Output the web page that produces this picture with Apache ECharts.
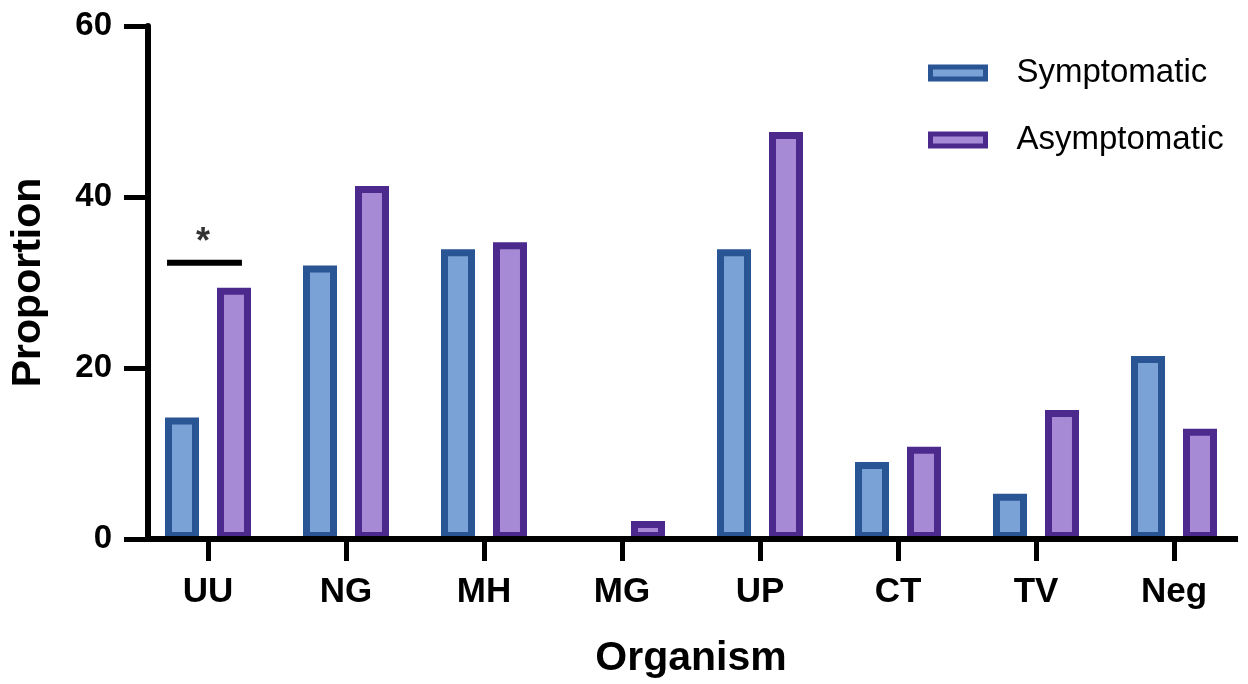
<!DOCTYPE html>
<html>
<head>
<meta charset="utf-8">
<script src="https://cdn.jsdelivr.net/npm/echarts@6/dist/echarts.min.js"></script>
<style>
html,body{margin:0;padding:0;background:#fff;}
#chart{width:1248px;height:684px;}
</style>
</head>
<body>
<div id="chart"></div>
<script>
// ---- data ----
const categories = ['UU', 'NG', 'MH', 'MG', 'UP', 'CT', 'TV', 'Neg'];
const symptomatic = [14.2, 32.0, 33.9, 0, 33.9, 9.0, 5.3, 21.4];
const asymptomatic = [29.4, 41.3, 34.7, 2.1, 47.6, 10.8, 15.1, 12.9];
const yMin = 0, yMax = 60, yInterval = 20;
// significance annotation (x in category units on an overlay value axis)
const sigLine = [[0.203, 32.3], [0.746, 32.3]];
const sigStar = [[0.464, 34.6]];
const baseLine = [[0.065, 0], [7.964, 0]];

const FONT = '"Liberation Sans", Arial, sans-serif';
const chart = echarts.init(document.getElementById('chart'), null, {renderer: 'canvas'});

// zero-height bars draw nothing (as in the reference)
const toItems = arr => arr.map(v => v === 0 ? {value: v, itemStyle: {borderWidth: 0, color: 'rgba(0,0,0,0)'}} : v);

chart.setOption({
  animation: false,
  backgroundColor: '#ffffff',
  grid: {left: 139, right: 5, top: 26, bottom: 140.5, containLabel: false},
  legend: {
    data: ['Symptomatic', 'Asymptomatic'],
    orient: 'vertical',
    left: 923,
    top: 49,
    icon: 'rect',
    itemWidth: 55,
    itemHeight: 12,
    itemGap: 29,
    itemStyle: {borderWidth: 5},
    textStyle: {fontFamily: FONT, fontSize: 33, color: '#000', lineHeight: 38, padding: [0, 0, 0, 26]}
  },
  xAxis: [
    {
      type: 'category',
      data: categories,
      axisLine: {show: false},
      axisTick: {show: true, alignWithLabel: true, length: 22, lineStyle: {color: '#000', width: 5}},
      axisLabel: {fontFamily: FONT, fontSize: 35, fontWeight: 'bold', color: '#000', margin: 36},
      name: 'Organism',
      nameLocation: 'middle',
      nameGap: 99,
      nameTextStyle: {fontFamily: FONT, fontSize: 41, fontWeight: 'bold', color: '#000'}
    },
    {
      type: 'value',
      min: 0,
      max: 8,
      show: false
    }
  ],
  yAxis: {
    type: 'value',
    min: yMin,
    max: yMax,
    interval: yInterval,
    offset: -9,
    axisLine: {show: true, lineStyle: {color: '#000', width: 6}},
    axisTick: {show: true, length: 24, lineStyle: {color: '#000', width: 5}},
    axisLabel: {fontFamily: FONT, fontSize: 33, fontWeight: 'bold', color: '#000', margin: 36},
    splitLine: {show: false},
    name: 'Proportion',
    nameLocation: 'middle',
    nameGap: 99,
    nameRotate: 90,
    nameTextStyle: {fontFamily: FONT, fontSize: 41, fontWeight: 'bold', color: '#000'}
  },
  series: [
    {
      name: 'Symptomatic',
      type: 'bar',
      data: toItems(symptomatic),
      barWidth: 34,
      barGap: '52.9%',
      itemStyle: {color: '#7ba2d6', borderColor: '#2a5595', borderWidth: 7},
      z: 2
    },
    {
      name: 'Asymptomatic',
      type: 'bar',
      data: toItems(asymptomatic),
      barWidth: 34,
      barGap: '52.9%',
      itemStyle: {color: '#a68ad5', borderColor: '#4c2a8d', borderWidth: 7},
      z: 2
    },
    {
      name: 'baseline',
      type: 'line',
      xAxisIndex: 1,
      data: baseLine,
      symbol: 'none',
      lineStyle: {color: '#000', width: 6},
      silent: true,
      z: 5
    },
    {
      name: 'sig',
      type: 'line',
      xAxisIndex: 1,
      data: sigLine,
      symbol: 'none',
      lineStyle: {color: '#000', width: 6},
      silent: true,
      z: 5
    },
    {
      name: 'star',
      type: 'scatter',
      xAxisIndex: 1,
      data: sigStar,
      symbolSize: 1,
      itemStyle: {color: 'rgba(0,0,0,0)'},
      label: {show: true, position: 'inside', formatter: '*', fontFamily: FONT, fontSize: 36, fontWeight: 'bold', color: '#000'},
      silent: true,
      z: 5
    }
  ]
});
</script>
</body>
</html>
